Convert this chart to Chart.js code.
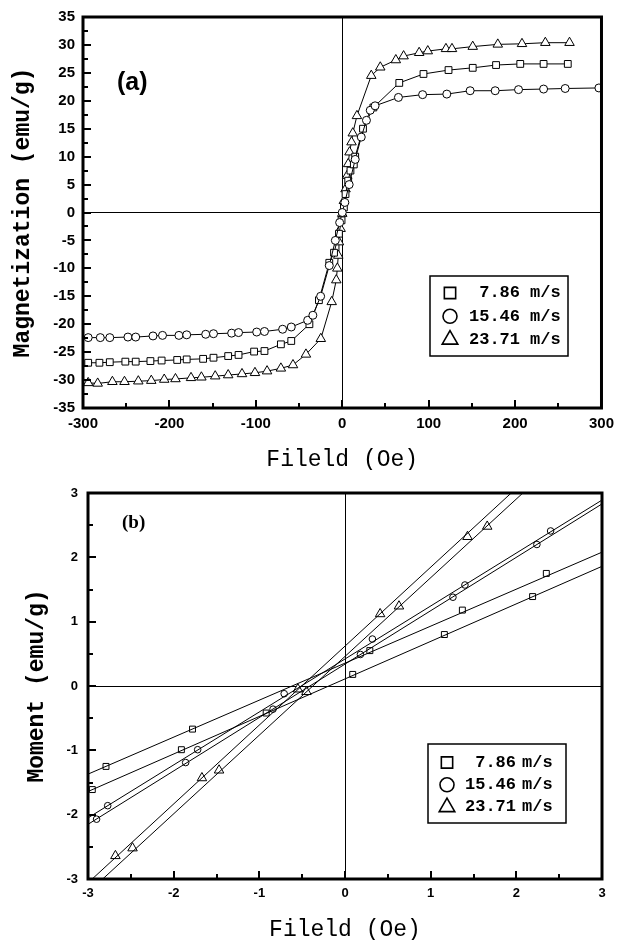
<!DOCTYPE html>
<html>
<head>
<meta charset="utf-8">
<script src="https://cdn.jsdelivr.net/npm/chart.js@4.4.1/dist/chart.umd.min.js"></script>
<style>
  html, body { margin: 0; padding: 0; background: #fff; }
  #wrap { position: relative; width: 621px; height: 940px; }
  canvas { position: absolute; left: 0; }
  #chartA { top: 0; }
  #chartB { top: 470px; }
</style>
</head>
<body>
<div id="wrap">
  <canvas id="chartA" width="621" height="470"></canvas>
  <canvas id="chartB" width="621" height="470"></canvas>
</div>
<script>
// legend entries (quench wheel speed) and their marker shapes
const speeds = ['7.86', '15.46', '23.71'];
const markers = ['rect', 'circle', 'triangle'];

// (a) full loops, field in Oe, magnetization in emu/g
const fieldA786 = [-294, -281, -269, -251, -239, -222, -209, -191, -180, -161, -149, -132, -120, -102, -90, -71, -59, -38, -27, -15, -9.5, -3.8, -0.8, 1.9, 3.8, 6.9, 9.5, 13.4, 15, 24, 36, 66, 94, 123, 151, 178, 206, 233, 261];
const magA786 = [-26.9, -26.9, -26.8, -26.7, -26.7, -26.6, -26.5, -26.4, -26.3, -26.2, -26.0, -25.7, -25.5, -24.9, -24.8, -23.6, -23.0, -20.0, -15.7, -9.0, -7.2, -3.8, -1.4, 0.9, 3.3, 5.7, 7.5, 8.6, 10.0, 15.0, 18.8, 23.2, 24.8, 25.5, 25.9, 26.4, 26.6, 26.6, 26.6];

const fieldA1546 = [-294, -280, -269, -248, -239, -219, -208, -189, -180, -158, -149, -128, -120, -99, -90, -69, -59, -40, -34, -25, -15, -8, -3, 0, 3, 8, 15, 22, 28, 32.4, 38, 65, 93, 121, 148, 177, 204, 233, 258, 297];
const magA1546 = [-22.4, -22.4, -22.4, -22.3, -22.3, -22.1, -22.0, -22.0, -21.9, -21.8, -21.7, -21.6, -21.5, -21.4, -21.3, -20.9, -20.5, -19.3, -18.4, -15.0, -9.5, -5.0, -1.8, 0, 1.8, 5.0, 9.5, 13.5, 16.5, 18.3, 19.1, 20.6, 21.1, 21.2, 21.8, 21.8, 22.0, 22.1, 22.2, 22.3];

const fieldA2371 = [-294, -283, -266, -252, -236, -221, -206, -193, -175, -163, -147, -132, -116, -101, -87, -71, -57, -42, -24.8, -12.2, -6.9, -5.7, -4.6, -3.8, -1.9, 0, 1.9, 3.8, 5.7, 6.9, 8.4, 10.7, 12.2, 17, 33.6, 44, 62, 71, 89, 99, 120, 127, 151, 180, 208, 235, 263];
const magA2371 = [-30.5, -30.6, -30.3, -30.3, -30.2, -30.1, -29.9, -29.8, -29.6, -29.5, -29.3, -29.1, -28.9, -28.7, -28.4, -27.9, -27.3, -25.4, -22.6, -16.0, -12.1, -10.0, -7.7, -5.3, -2.9, -0.2, 2.1, 4.2, 6.6, 8.7, 10.8, 12.6, 14.2, 17.3, 24.5, 26.0, 27.3, 28.0, 28.6, 28.9, 29.3, 29.3, 29.7, 30.1, 30.2, 30.4, 30.4];

// (b) low field region, two branches per sample
const fieldB786lo = [-2.95, -1.91, -0.92, 0.09, 1.16, 2.19];
const momB786lo = [-1.61, -0.99, -0.42, 0.18, 0.80, 1.39];
const fieldB786hi = [-2.79, -1.78, 0.29, 1.37, 2.35];
const momB786hi = [-1.25, -0.67, 0.55, 1.18, 1.75];

const fieldB1546hi = [-2.77, -1.72, -0.71, 0.32, 1.40, 2.40];
const momB1546hi = [-1.86, -0.99, -0.12, 0.73, 1.57, 2.41];
const fieldB1546lo = [-2.90, -1.86, -0.84, 0.18, 1.26, 2.24];
const momB1546lo = [-2.07, -1.19, -0.36, 0.49, 1.38, 2.20];

const fieldB2371hi = [-2.68, -1.67, -0.55, 0.41, 1.43];
const momB2371hi = [-2.64, -1.43, -0.05, 1.12, 2.32];
const fieldB2371lo = [-2.48, -1.47, -0.45, 0.63, 1.66];
const momB2371lo = [-2.52, -1.31, -0.09, 1.24, 2.48];

// linear fits drawn across the panel: values at field -3 and +3
const fitField = [-3, 3];
const fit786lo = [-1.64, 1.86];
const fit786hi = [-1.37, 2.08];
const fit1546hi = [-2.05, 2.89];
const fit1546lo = [-2.15, 2.83];
const fit2371hi = [-3.06, 4.30];
const fit2371lo = [-3.21, 4.13];

const toPts = (xs, ys) => xs.map((v, i) => ({ x: v, y: ys[i] }));

const zeroLine = c => (c.tick && c.tick.value === 0) ? '#000' : 'rgba(0,0,0,0)';

// box around the plot + inward ticks on left and bottom axes
const frameTicks = {
  id: 'frameTicks',
  afterDraw(chart, args, o) {
    const { ctx, chartArea: a, scales: { x, y } } = chart;
    ctx.save();
    ctx.strokeStyle = '#000';
    ctx.lineWidth = 2;
    ctx.beginPath();
    for (let k = 0; k <= (x.max - x.min) / o.xStep * 2; k++) {
      const v = x.min + k * o.xStep / 2;
      const px = Math.round(x.getPixelForValue(v));
      const len = k % 2 === 0 ? o.major : o.minor;
      ctx.moveTo(px, a.bottom);
      ctx.lineTo(px, a.bottom - len);
    }
    for (let k = 0; k <= (y.max - y.min) / o.yStep * 2; k++) {
      const v = y.min + k * o.yStep / 2;
      const py = Math.round(y.getPixelForValue(v));
      const len = k % 2 === 0 ? o.major : o.minor;
      ctx.moveTo(a.left, py);
      ctx.lineTo(a.left + len, py);
    }
    ctx.stroke();
    ctx.lineWidth = o.frame;
    ctx.strokeRect(a.left, a.top, a.right - a.left, a.bottom - a.top);
    ctx.restore();
  }
};

// boxed legend inside the plot area
const boxLegend = {
  id: 'boxLegend',
  afterDraw(chart, args, o) {
    const ctx = chart.ctx;
    ctx.save();
    ctx.strokeStyle = '#000';
    ctx.lineWidth = 1.5;
    ctx.strokeRect(o.x, o.y, o.w, o.h);
    ctx.font = o.font;
    ctx.textBaseline = 'middle';
    speeds.forEach((s, i) => {
      const cy = o.y + o.first + i * o.gap;
      ctx.fillStyle = '#fff';
      ctx.lineWidth = 1.6;
      Chart.helpers.drawPoint(ctx, { pointStyle: markers[i], radius: o.r[i], borderWidth: 1.6 }, o.symX, cy);
      ctx.fillStyle = '#000';
      ctx.textAlign = 'right';
      ctx.fillText(s, o.numRight, cy);
      ctx.textAlign = 'left';
      ctx.fillText('m/s', o.unitX, cy);
    });
    ctx.restore();
  }
};

const panelTag = {
  id: 'panelTag',
  afterDraw(chart, args, o) {
    const ctx = chart.ctx;
    ctx.save();
    ctx.font = o.font;
    ctx.fillStyle = '#000';
    ctx.textBaseline = 'middle';
    ctx.fillText(o.text, o.x, o.y);
    ctx.restore();
  }
};

function loop(xs, ys, style, r) {
  return {
    data: toPts(xs, ys),
    showLine: true,
    borderColor: '#000',
    borderWidth: 1,
    pointStyle: style,
    pointRadius: r,
    pointBackgroundColor: '#fff',
    pointBorderColor: '#000',
    pointBorderWidth: 1,
    tension: 0
  };
}

function fitLine(ys) {
  return { data: toPts(fitField, ys), showLine: true, borderColor: '#000', borderWidth: 1, pointRadius: 0 };
}

function marks(xs, ys, style, r) {
  return {
    data: toPts(xs, ys),
    showLine: false,
    pointStyle: style,
    pointRadius: r,
    pointBackgroundColor: '#fff',
    pointBorderColor: '#000',
    pointBorderWidth: 1
  };
}

const tickFont = size => ({ family: 'Liberation Sans', size: size, weight: 'bold' });

new Chart(document.getElementById('chartA'), {
  type: 'scatter',
  data: {
    datasets: [
      loop(fieldA1546, magA1546, 'circle', 4),
      loop(fieldA786, magA786, 'rect', 4.8),
      loop(fieldA2371, magA2371, 'triangle', 5.5)
    ]
  },
  options: {
    responsive: false,
    animation: false,
    devicePixelRatio: 1,
    layout: { padding: { top: 16, right: 14, left: 0, bottom: 0 } },
    plugins: {
      legend: { display: false },
      tooltip: { enabled: false },
      frameTicks: { xStep: 100, yStep: 5, major: 8, minor: 5, frame: 3 },
      boxLegend: { x: 430, y: 276, w: 138, h: 80, first: 17, gap: 23.3, symX: 450, numRight: 520, unitX: 530, r: [8, 7, 9], font: 'bold 17px "Liberation Mono"' },
      panelTag: { text: '(a)', x: 117, y: 83, font: 'bold 25px "Liberation Sans"' }
    },
    scales: {
      x: {
        type: 'linear', min: -300, max: 300,
        afterFit: s => { s.height = 62; },
        ticks: { stepSize: 100, autoSkip: false, maxRotation: 0, padding: 7, color: '#000', font: tickFont(15) },
        grid: { color: zeroLine, drawTicks: false, lineWidth: 1 },
        border: { display: false },
        title: { display: true, text: 'Fileld (Oe)', color: '#000', font: { family: 'Liberation Mono', size: 23, lineHeight: 1 }, padding: { top: 0, bottom: -1 } }
      },
      y: {
        type: 'linear', min: -35, max: 35,
        afterFit: s => { s.width = 83; },
        ticks: { stepSize: 5, autoSkip: false, padding: 8, color: '#000', font: tickFont(15) },
        grid: { color: zeroLine, drawTicks: false, lineWidth: 1 },
        border: { display: false },
        title: { display: true, text: 'Magnetization (emu/g)', color: '#000', font: { family: 'Liberation Mono', size: 23, weight: 'bold', lineHeight: 1 }, padding: { top: 12, bottom: 0 } }
      }
    }
  },
  plugins: [frameTicks, boxLegend, panelTag]
});

new Chart(document.getElementById('chartB'), {
  type: 'scatter',
  data: {
    datasets: [
      fitLine(fit786lo), fitLine(fit786hi),
      fitLine(fit1546hi), fitLine(fit1546lo),
      fitLine(fit2371hi), fitLine(fit2371lo),
      marks(fieldB786lo, momB786lo, 'rect', 4.2),
      marks(fieldB786hi, momB786hi, 'rect', 4.2),
      marks(fieldB1546hi, momB1546hi, 'circle', 3.3),
      marks(fieldB1546lo, momB1546lo, 'circle', 3.3),
      marks(fieldB2371hi, momB2371hi, 'triangle', 5.5),
      marks(fieldB2371lo, momB2371lo, 'triangle', 5.5)
    ]
  },
  options: {
    responsive: false,
    animation: false,
    devicePixelRatio: 1,
    layout: { padding: { top: 23, right: 19, left: 0, bottom: 0 } },
    plugins: {
      legend: { display: false },
      tooltip: { enabled: false },
      frameTicks: { xStep: 1, yStep: 1, major: 8, minor: 5, frame: 3 },
      boxLegend: { x: 428, y: 274, w: 138, h: 79, first: 18.5, gap: 22.3, symX: 447, numRight: 516, unitX: 522, r: [8, 7, 9], font: 'bold 17px "Liberation Mono"' },
      panelTag: { text: '(b)', x: 122, y: 53, font: 'bold 19px "Liberation Serif"' }
    },
    scales: {
      x: {
        type: 'linear', min: -3, max: 3,
        afterFit: s => { s.height = 61; },
        ticks: { stepSize: 1, autoSkip: false, maxRotation: 0, padding: 7, color: '#000', font: tickFont(13) },
        grid: { color: zeroLine, drawTicks: false, lineWidth: 1 },
        border: { display: false },
        title: { display: true, text: 'Fileld (Oe)', color: '#000', font: { family: 'Liberation Mono', size: 23, lineHeight: 1 }, padding: { top: 0, bottom: -1.5 } }
      },
      y: {
        type: 'linear', min: -3, max: 3,
        afterFit: s => { s.width = 88; },
        ticks: { stepSize: 1, autoSkip: false, padding: 10, color: '#000', font: tickFont(13) },
        grid: { color: zeroLine, drawTicks: false, lineWidth: 1 },
        border: { display: false },
        title: { display: true, text: 'Moment (emu/g)', color: '#000', font: { family: 'Liberation Mono', size: 23, weight: 'bold', lineHeight: 1 }, padding: { top: 26, bottom: 0 } }
      }
    }
  },
  plugins: [frameTicks, boxLegend, panelTag]
});
</script>
</body>
</html>
